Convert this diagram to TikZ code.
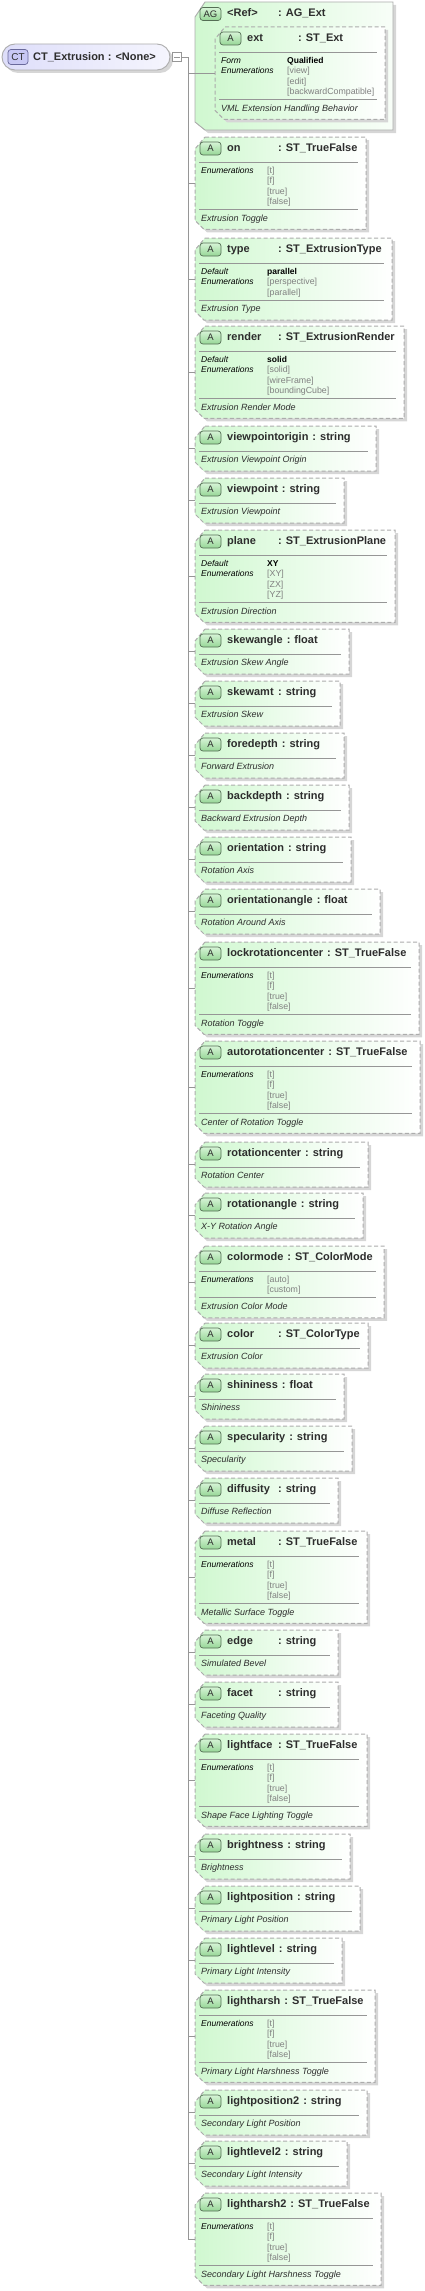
\documentclass[tikz,border=0pt]{standalone}
\usepackage{fontspec}
\setmainfont{Liberation Sans}
\usetikzlibrary{calc}

\definecolor{attrgreen}{RGB}{208,248,208}
\definecolor{badgetop}{RGB}{214,244,214}
\definecolor{badgebot}{RGB}{150,214,150}
\definecolor{badgeline}{RGB}{85,110,85}
\definecolor{ctfill}{RGB}{222,222,250}
\definecolor{ctbadgefill}{RGB}{200,200,244}
\definecolor{ctline}{RGB}{105,105,155}
\definecolor{framegray}{RGB}{172,172,172}
\definecolor{rulegray}{RGB}{150,150,150}
\definecolor{shadowgray}{RGB}{214,214,214}
\definecolor{valgray}{RGB}{128,128,128}
\definecolor{titlegray}{RGB}{45,45,45}

\tikzset{
  attrframe/.style={draw=framegray, line width=1pt, dash pattern=on 4pt off 2.5pt, left color=attrgreen, right color=white},
  agframe/.style={draw=framegray, line width=0.9pt, left color=attrgreen, right color=white!85!attrgreen},
  boxshadow/.style={fill=shadowgray},
  abadge/.style={draw=badgeline, line width=0.7pt, rounded corners=3pt, top color=badgetop, bottom color=badgebot,
    minimum width=21pt, minimum height=13pt, inner sep=0pt, font=\fontsize{9.5}{9.5}\selectfont, text=titlegray},
  ctbadge/.style={draw=ctline, line width=0.7pt, rounded corners=3pt, fill=ctbadgefill,
    minimum width=20pt, minimum height=15pt, inner sep=0pt, font=\fontsize{10}{10}\selectfont, text=titlegray},
  ctbox/.style={draw=framegray, line width=0.9pt, rounded corners=13pt, left color=ctfill, right color=white!70!ctfill,
    minimum width=168pt, minimum height=26pt, inner sep=0pt},
  collapse/.style={draw=rulegray, line width=0.6pt, fill=white, minimum size=9pt, inner sep=0pt},
  attrtitle/.style={anchor=west, inner sep=0pt, text height=7.9pt, text depth=0pt,
    font=\fontsize{11}{11}\selectfont\bfseries, text=titlegray},
  attrdesc/.style={anchor=west, inner sep=0pt, text height=6.4pt, text depth=0pt,
    font=\fontsize{9}{9}\selectfont\itshape, text=titlegray},
  enumlabel/.style={anchor=west, inner sep=0pt, text height=6.1pt, text depth=0pt,
    font=\fontsize{8.5}{8.5}\selectfont\itshape},
  enumval/.style={anchor=west, inner sep=0pt, text height=6.1pt, text depth=0pt,
    font=\fontsize{8.8}{8.8}\selectfont, text=valgray},
  seprule/.style={draw=rulegray, line width=0.7pt},
  conn/.style={draw=rulegray, line width=0.8pt}
}

\newsavebox\namebox
\newdimen\namewd
% name, then the colon at least 51pt further on
\newcommand\attrname[2]{\sbox\namebox{#1}\namewd=\wd\namebox\advance\namewd by 4pt
  \ifdim\namewd<51pt\namewd=51pt\fi\makebox[\namewd][l]{\usebox\namebox}:\hspace{4pt}#2}
\newcommand\dflt[1]{\textcolor{black}{\fontsize{8.5}{8.5}\selectfont\bfseries #1}}

% top, right, rows, name, type, description, labels, values
\newcommand\attrbox[8]{%
  \pgfmathsetmacro\boxbot{#1+(#3==0 ? 45 : 51.2+#3*10.3)}
  \path[boxshadow] (208,{#1+3}) -- ({#2+3},{#1+3}) -- ({#2+3},{\boxbot+3}) -- (207,{\boxbot+3})
    -- (198,{\boxbot-6}) -- (198,{#1+15}) -- cycle;
  \path[attrframe] (205,#1) -- (#2,#1) -- (#2,\boxbot) -- (204,\boxbot) -- (195,{\boxbot-9}) -- (195,{#1+12}) -- cycle;
  \node[abadge] (#4-badge) at (210.5,{#1+11.5}) {A};
  \node[attrtitle] (#4-title) at (227,{#1+11}) {\attrname{#4}{#5}};
  \draw[seprule] (199,{#1+25.5}) -- ({#2-8},{#1+25.5});
  \ifnum#3>0
    \foreach \lbl [count=\i] in {#7} \node[enumlabel] (#4-l\i) at (201,{#1+33.5+(\i-1)*10.3}) {\lbl};
    \foreach \val [count=\i] in {#8} \node[enumval] (#4-v\i) at (267,{#1+33.5+(\i-1)*10.3}) {\val};
    \draw[seprule] (199,{\boxbot-20}) -- ({#2-8},{\boxbot-20});
  \fi
  \node[attrdesc] (#4-desc) at (201,{\boxbot-11.5}) {#6};
  \coordinate (#4) at (195,{(#1+\boxbot)/2});
}

\begin{document}
\begin{tikzpicture}[x=1pt,y=-1pt]
  \useasboundingbox (0,0) rectangle (424,2291);

  % complex type
  \fill[shadowgray, rounded corners=13pt] (5,47) rectangle (173,73);
  \node[ctbox] (ctx) at (86,57) {};
  \node[ctbadge] (ct-badge) at (18,57) {CT};
  \node[attrtitle] (ct-title) at (33,57) {CT\_Extrusion : <None>};
  \node[collapse] (ctcollapse) at (177,57) {};
  \draw[rulegray, line width=0.6pt] ([xshift=2pt]ctcollapse.west) -- ([xshift=-2pt]ctcollapse.east);
  \coordinate (trunk) at (188,57);

  % attribute group
  \path[boxshadow] (208,5) -- (396,5) -- (396,133) -- (208,133) -- (198,125) -- (198,20) -- cycle;
  \path[agframe] (205,2) -- (393,2) -- (393,130) -- (205,130) -- (195,122) -- (195,17) -- cycle;
  \node[abadge] (ag-badge) at (210.5,14) {AG};
  \node[attrtitle] (ag-title) at (227,13) {\attrname{<Ref>}{AG\_Ext}};
  \begin{scope}[xshift=20pt]
    \attrbox{27}{365}{4}{ext}{ST\_Ext}{VML Extension Handling Behavior}{Form,Enumerations}{\dflt{Qualified},[view],[edit],[backwardCompatible]}
  \end{scope}

  % attributes
  \attrbox{137}{366}{4}{on}{ST\_TrueFalse}{Extrusion Toggle}{Enumerations}{[t],[f],[true],[false]}
  \attrbox{238}{392}{3}{type}{ST\_ExtrusionType}{Extrusion Type}{Default,Enumerations}{\dflt{parallel},[perspective],[parallel]}
  \attrbox{326}{404}{4}{render}{ST\_ExtrusionRender}{Extrusion Render Mode}{Default,Enumerations}{\dflt{solid},[solid],[wireFrame],[boundingCube]}
  \attrbox{426}{376}{0}{viewpointorigin}{string}{Extrusion Viewpoint Origin}{}{}
  \attrbox{478}{344}{0}{viewpoint}{string}{Extrusion Viewpoint}{}{}
  \attrbox{530}{395}{4}{plane}{ST\_ExtrusionPlane}{Extrusion Direction}{Default,Enumerations}{\dflt{XY},[XY],[ZX],[YZ]}
  \attrbox{629}{349}{0}{skewangle}{float}{Extrusion Skew Angle}{}{}
  \attrbox{681}{340}{0}{skewamt}{string}{Extrusion Skew}{}{}
  \attrbox{733}{344}{0}{foredepth}{string}{Forward Extrusion}{}{}
  \attrbox{785}{349}{0}{backdepth}{string}{Backward Extrusion Depth}{}{}
  \attrbox{837}{351}{0}{orientation}{string}{Rotation Axis}{}{}
  \attrbox{889}{380}{0}{orientationangle}{float}{Rotation Around Axis}{}{}
  \attrbox{942}{419}{4}{lockrotationcenter}{ST\_TrueFalse}{Rotation Toggle}{Enumerations}{[t],[f],[true],[false]}
  \attrbox{1041}{420}{4}{autorotationcenter}{ST\_TrueFalse}{Center of Rotation Toggle}{Enumerations}{[t],[f],[true],[false]}
  \attrbox{1142}{368}{0}{rotationcenter}{string}{Rotation Center}{}{}
  \attrbox{1193}{363}{0}{rotationangle}{string}{X-Y Rotation Angle}{}{}
  \attrbox{1246}{384}{2}{colormode}{ST\_ColorMode}{Extrusion Color Mode}{Enumerations}{[auto],[custom]}
  \attrbox{1323}{368}{0}{color}{ST\_ColorType}{Extrusion Color}{}{}
  \attrbox{1374}{344}{0}{shininess}{float}{Shininess}{}{}
  \attrbox{1426}{352}{0}{specularity}{string}{Specularity}{}{}
  \attrbox{1478}{338}{0}{diffusity}{string}{Diffuse Reflection}{}{}
  \attrbox{1531}{367}{4}{metal}{ST\_TrueFalse}{Metallic Surface Toggle}{Enumerations}{[t],[f],[true],[false]}
  \attrbox{1630}{338}{0}{edge}{string}{Simulated Bevel}{}{}
  \attrbox{1682}{338}{0}{facet}{string}{Faceting Quality}{}{}
  \attrbox{1734}{367}{4}{lightface}{ST\_TrueFalse}{Shape Face Lighting Toggle}{Enumerations}{[t],[f],[true],[false]}
  \attrbox{1834}{350}{0}{brightness}{string}{Brightness}{}{}
  \attrbox{1886}{360}{0}{lightposition}{string}{Primary Light Position}{}{}
  \attrbox{1938}{342}{0}{lightlevel}{string}{Primary Light Intensity}{}{}
  \attrbox{1990}{375}{4}{lightharsh}{ST\_TrueFalse}{Primary Light Harshness Toggle}{Enumerations}{[t],[f],[true],[false]}
  \attrbox{2090}{367}{0}{lightposition2}{string}{Secondary Light Position}{}{}
  \attrbox{2141}{347}{0}{lightlevel2}{string}{Secondary Light Intensity}{}{}
  \attrbox{2193}{381}{4}{lightharsh2}{ST\_TrueFalse}{Secondary Light Harshness Toggle}{Enumerations}{[t],[f],[true],[false]}

  % connectors
  \draw[conn] (ctcollapse.east) -- (trunk) -- (trunk |- lightharsh2);
  \foreach \a in {ext,on,type,render,viewpointorigin,viewpoint,plane,skewangle,skewamt,foredepth,
    backdepth,orientation,orientationangle,lockrotationcenter,autorotationcenter,rotationcenter,
    rotationangle,colormode,color,shininess,specularity,diffusity,metal,edge,facet,lightface,
    brightness,lightposition,lightlevel,lightharsh,lightposition2,lightlevel2,lightharsh2}
    \draw[conn] (trunk |- \a) -- (\a);
\end{tikzpicture}
\end{document}
